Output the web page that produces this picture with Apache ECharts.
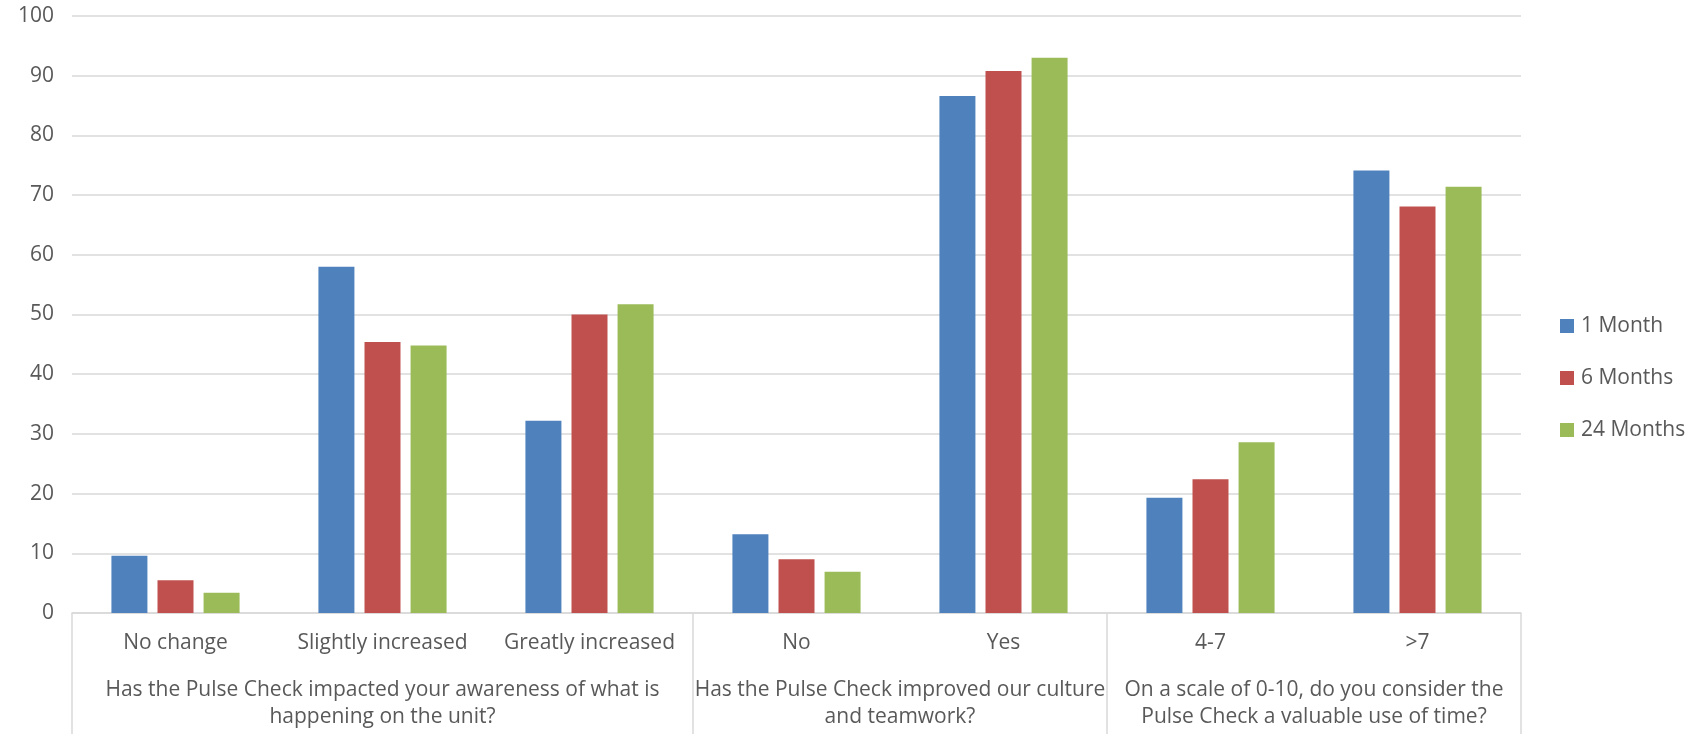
<!DOCTYPE html>
<html>
<head>
<meta charset="utf-8">
<script src="https://cdn.jsdelivr.net/npm/echarts@6/dist/echarts.min.js"></script>
<style>html,body{margin:0;padding:0;background:#fff}#c{width:1700px;height:734px}</style>
</head>
<body>
<div id="c"></div>
<script>
const categories = ['No change', 'Slightly increased', 'Greatly increased', 'No', 'Yes', '4-7', '>7'];
const seriesNames = ['1 Month', '6 Months', '24 Months'];
const month1 = [9.6, 58.0, 32.2, 13.2, 86.6, 19.3, 74.1];
const month6 = [5.5, 45.4, 50.0, 9.0, 90.8, 22.4, 68.1];
const month24 = [3.4, 44.8, 51.7, 6.9, 93.0, 28.6, 71.4];
const groupLabels = [
  'Has the Pulse Check impacted your awareness of what is\nhappening on the unit?',
  'Has the Pulse Check improved our culture\nand teamwork?',
  'On a scale of 0-10, do you consider the\nPulse Check a valuable use of time?'
];
const groupBounds = [0, 3, 5, 7];
const groupCenters = [1.5, 4, 6];
const yTicks = [0, 10, 20, 30, 40, 50, 60, 70, 80, 90, 100];

const colors = ['#4F81BD', '#C0504D', '#9BBB59'];
const font = 'Open Sans';
const fs = 21;
const txt = '#595959';

const chart = echarts.init(document.getElementById('c'));
const values = [month1, month6, month24];
chart.setOption({
  animation: false,
  color: colors,
  grid: { left: 72, right: 179, top: 16, bottom: 121, containLabel: false },
  legend: {
    orient: 'vertical', left: 1560, top: 315.5, padding: 0,
    itemWidth: 14, itemHeight: 14, itemGap: 31, icon: 'rect',
    textStyle: { fontFamily: font, fontSize: fs, color: txt, lineHeight: 14, padding: [0, 0, 0, 2] },
    data: seriesNames
  },
  xAxis: [
    {
      type: 'category', data: categories, position: 'bottom',
      axisLine: { show: true, lineStyle: { color: '#d9d9d9', width: 1.5 } },
      axisTick: { show: false },
      axisLabel: { fontFamily: font, fontSize: fs, color: txt, margin: 18, lineHeight: 24, interval: 0 },
      splitLine: { show: false }
    },
    {
      type: 'value', min: 0, max: 7, position: 'bottom',
      axisLine: { show: false },
      axisTick: { show: true, customValues: groupBounds, length: 121, lineStyle: { color: '#d9d9d9', width: 1.5 } },
      axisLabel: {
        show: true, customValues: groupCenters, margin: 64,
        fontFamily: font, fontSize: fs, color: txt, lineHeight: 27, align: 'center',
        formatter: function (v) { const i = groupCenters.indexOf(v); return i >= 0 ? groupLabels[i] : ''; }
      },
      splitLine: { show: false }
    }
  ],
  yAxis: {
    type: 'value', min: yTicks[0], max: yTicks[yTicks.length - 1], interval: 10,
    axisLine: { show: false }, axisTick: { show: false },
    axisLabel: { fontFamily: font, fontSize: fs, color: txt, margin: 18 },
    splitLine: { lineStyle: { color: '#d9d9d9', width: 1.5 } }
  },
  series: seriesNames.map((n, i) => ({
    name: n, type: 'bar', xAxisIndex: 0, data: values[i],
    barWidth: 36, barGap: '28%'
  }))
});
</script>
</body>
</html>
